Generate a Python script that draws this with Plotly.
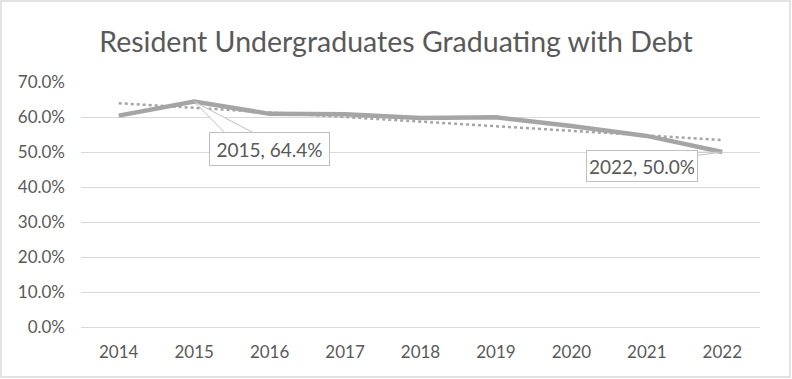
import numpy as np
import plotly.graph_objects as go

years = ["2014", "2015", "2016", "2017", "2018", "2019", "2020", "2021", "2022"]
debt_share = [0.604, 0.644, 0.609, 0.608, 0.597, 0.599, 0.574, 0.546, 0.500]
y_ticks = [0.0, 0.1, 0.2, 0.3, 0.4, 0.5, 0.6, 0.7]
title_text = "Resident Undergraduates Graduating with Debt"

FONT = "Lato"
GREY = "#a5a5a5"
TXT = "#595959"
EDGE = "#bfbfbf"

# linear trendline derived from the data
idx = np.arange(len(years))
slope, intercept = np.polyfit(idx, debt_share, 1)
trend = (slope * idx + intercept).tolist()

fig = go.Figure()
fig.add_trace(go.Scatter(x=years, y=trend, mode="lines",
                         line=dict(color=GREY, width=2.5, dash="dot"),
                         hoverinfo="skip"))
fig.add_trace(go.Scatter(x=years, y=debt_share, mode="lines",
                         line=dict(color=GREY, width=4.5)))

# callout wedges (index positions on category axis)
i15 = years.index("2015")
i22 = years.index("2022")
fig.add_shape(type="path",
              path=f"M {i15} {debt_share[i15]} L {i15+0.431} 0.55 L {i15+0.829} 0.55 Z",
              xref="x", yref="y", fillcolor="white", line=dict(color=EDGE, width=1),
              layer="above")
fig.add_shape(type="path",
              path=f"M {i22} {debt_share[i22]} L {i22-0.36} 0.4991 L {i22-0.36} 0.4894 Z",
              xref="x", yref="y", fillcolor="white", line=dict(color=EDGE, width=1),
              layer="above")

fig.add_annotation(x=i15 + 0.998, y=0.5086, xref="x", yref="y",
                   text=f"{years[i15]}, {debt_share[i15]*100:.1f}%", showarrow=False,
                   width=111, height=24,
                   bgcolor="white", bordercolor=EDGE, borderwidth=1, borderpad=4,
                   font=dict(family=FONT, size=19, color=TXT))
fig.add_annotation(x=i22 - 1.064, y=0.4594, xref="x", yref="y",
                   text=f"{years[i22]}, {debt_share[i22]*100:.1f}%", showarrow=False,
                   width=104, height=24,
                   bgcolor="white", bordercolor=EDGE, borderwidth=1, borderpad=3,
                   font=dict(family=FONT, size=19, color=TXT))

# outer chart border
fig.add_shape(type="rect", xref="paper", yref="paper",
              x0=-0.1178, x1=1.0442, y0=-0.204, y1=1.3306,
              line=dict(color="#d9d9d9", width=1.5), fillcolor="rgba(0,0,0,0)")

fig.update_layout(
    width=792, height=379,
    margin=dict(l=81, r=32, t=82, b=52, autoexpand=False),
    paper_bgcolor="white", plot_bgcolor="white",
    showlegend=False,
    font=dict(family=FONT, color=TXT, size=17),
    title=dict(text=title_text, x=0.5, xref="container", xanchor="center",
               y=1 - 42 / 379, yanchor="middle",
               font=dict(family=FONT, size=28.5, color=TXT)),
)
fig.update_xaxes(type="category", range=[-0.5, len(years) - 0.5], automargin=False,
                 showgrid=False, showline=False, zeroline=False, ticks="",
                 tickfont=dict(family=FONT, size=17, color=TXT),
                 ticklabelstandoff=13)
fig.update_yaxes(range=[0, 0.7], tickvals=y_ticks, tickformat=".1%", automargin=False,
                 showgrid=True, gridcolor="#d9d9d9", gridwidth=1,
                 zeroline=True, zerolinecolor="#d9d9d9", zerolinewidth=1,
                 showline=False, ticks="",
                 tickfont=dict(family=FONT, size=17, color=TXT),
                 ticklabelstandoff=15)

fig.write_html("out.html", config={"displayModeBar": False},
               post_script="document.body.style.margin='0';document.body.style.overflow='hidden';")
